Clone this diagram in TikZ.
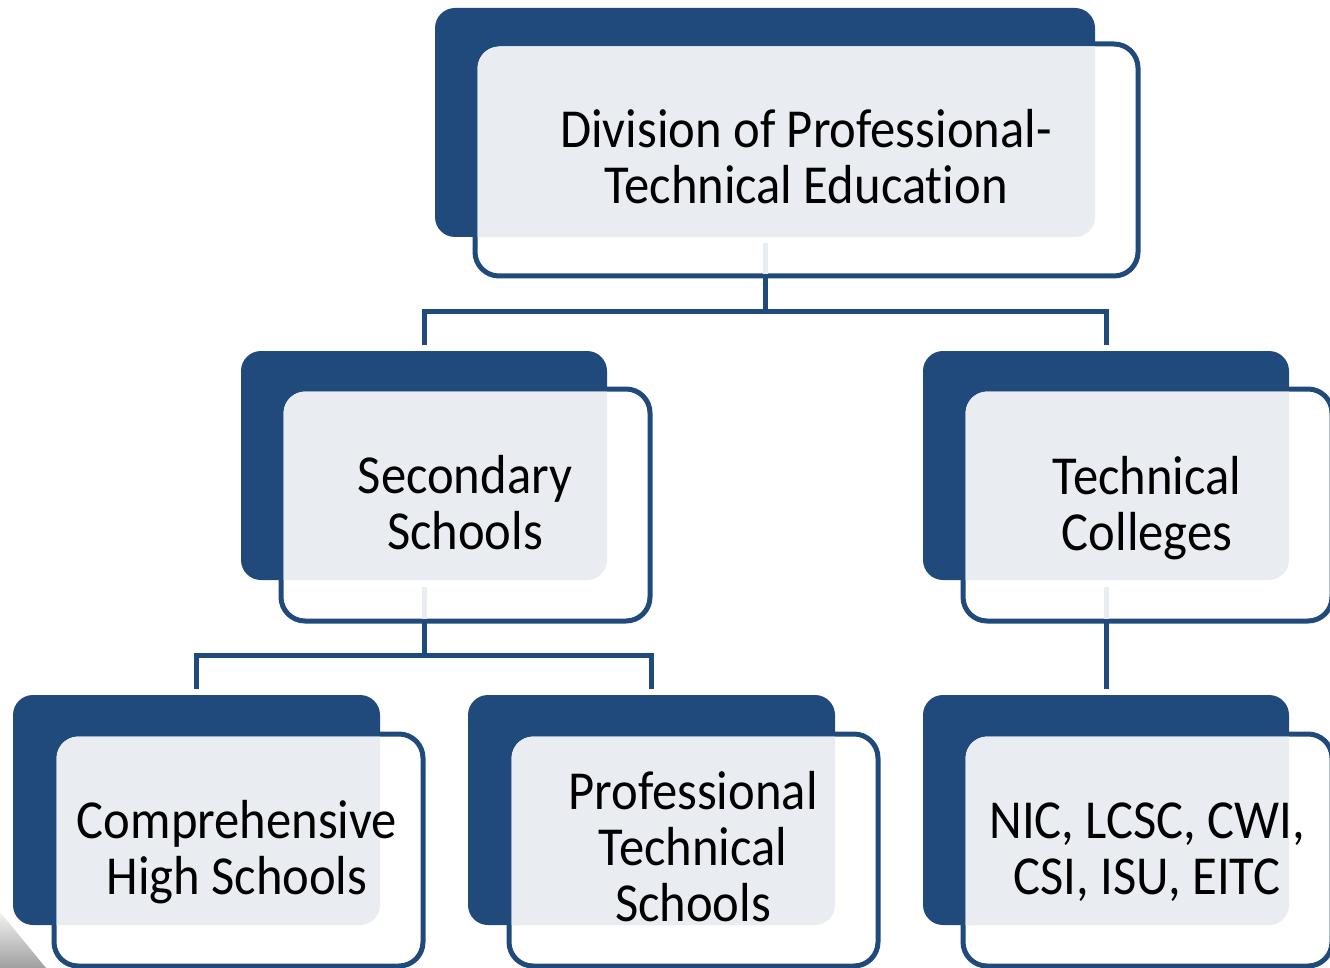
\documentclass[tikz,border=0pt]{standalone}
\usepackage{fontspec}
\setmainfont{Carlito}[Ligatures=NoCommon]
\usetikzlibrary{fit,calc}
\definecolor{darkc}{HTML}{214A7C}
\definecolor{lightc}{HTML}{E9ECF1}
\tikzset{
  darkbox/.style={fill=darkc, rounded corners=20pt, inner sep=0pt, outer sep=0pt},
  outbox/.style={fill=white, draw=darkc, line width=5pt, rounded corners=24pt, inner sep=0pt, outer sep=0pt},
  lbl/.style={font=\fontsize{55}{56}\selectfont, align=center, inner sep=0pt, text=black, xscale=0.92, transform shape},
  conn/.style={draw=darkc, line width=5pt},
  lconn/.style={draw=lightc, line width=5pt},
}
% name, dark x1 y1 x2 y2, outline x1 y1 x2 y2
\newcommand\orgbox[9]{%
  \node[darkbox, fit={(#2,#3)(#4,#5)}] (#1d) {};
  \node[outbox, fit={(#6,#7)(#8,#9)}] (#1) {};
  \begin{scope}
    \clip[rounded corners=20pt] (#1d.south west) rectangle (#1d.north east);
    \fill[lightc, rounded corners=22pt] ([shift={(2.5pt,2.5pt)}]#1.south west) rectangle ([shift={(-2.5pt,-2.5pt)}]#1.north east);
  \end{scope}
}
\begin{document}
\begin{tikzpicture}[x=1pt,y=-1pt]
\useasboundingbox (0,0) rectangle (1330,968);
\fill[white] (0,0) rectangle (1330,968);
\clip (0,0) rectangle (1330,968);
% photo fragment bottom-left
\begin{scope}
  \clip (0,912) -- (46,968) -- (0,968) -- cycle;
  \shade[shading angle=45, top color=gray!10, bottom color=gray!75] (0,912) rectangle (46,968);
\end{scope}
% boxes
\orgbox{top}{435}{8}{1095}{237}{475}{44}{1138}{276}
\orgbox{sec}{241}{351}{607}{580}{281}{389}{650}{621}
\orgbox{tec}{923}{351}{1289}{580}{963}{389}{1332}{621}
\orgbox{com}{13}{695}{380}{925}{54}{734}{423}{966}
\orgbox{pro}{468}{695}{835}{925}{509}{734}{878}{966}
\orgbox{nic}{923}{695}{1289}{925}{963}{734}{1332}{966}
% labels
\node[lbl] (topt) at (806,157) {Division of Professional-\\Technical Education};
\node[lbl] (sect) at (465,503) {Secondary\\Schools};
\node[lbl] (tect) at (1147,508) {Technical\\Colleges};
\node[lbl] (comt) at (237,852) {Comprehensive\\High Schools};
\node[lbl] (prot) at (693,847) {Professional\\Technical\\Schools};
\node[lbl] (nict) at (1147,852) {NIC, LCSC, CWI,\\CSI, ISU, EITC};
% connectors
\coordinate (j1) at ($(topd.south |- top.south)+(0,35)$);
\coordinate (j2) at ($(secd.south |- sec.south)+(0,34)$);
\draw[lconn] ($(topd.south)+(0,6)$) -- ($(topd.south |- top.south)+(0,-2)$);
\draw[lconn] ($(secd.south)+(0,7)$) -- ($(secd.south |- sec.south)+(0,-2)$);
\draw[lconn] ($(tecd.south)+(0,7)$) -- ($(tecd.south |- tec.south)+(0,-2)$);
\draw[conn] ($(topd.south |- top.south)+(0,2)$) -- (j1);
\draw[conn] (j1) -| ($(secd.north)+(0,-6)$);
\draw[conn] (j1) -| ($(tecd.north)+(0,-6)$);
\draw[conn] ($(secd.south |- sec.south)+(0,2)$) -- (j2);
\draw[conn] (j2) -| ($(comd.north)+(0,-6)$);
\draw[conn] (j2) -| ($(prod.north)+(0,-6)$);
\draw[conn] ($(tecd.south |- tec.south)+(0,2)$) -- ($(nicd.north)+(0,-6)$);
\end{tikzpicture}
\end{document}
